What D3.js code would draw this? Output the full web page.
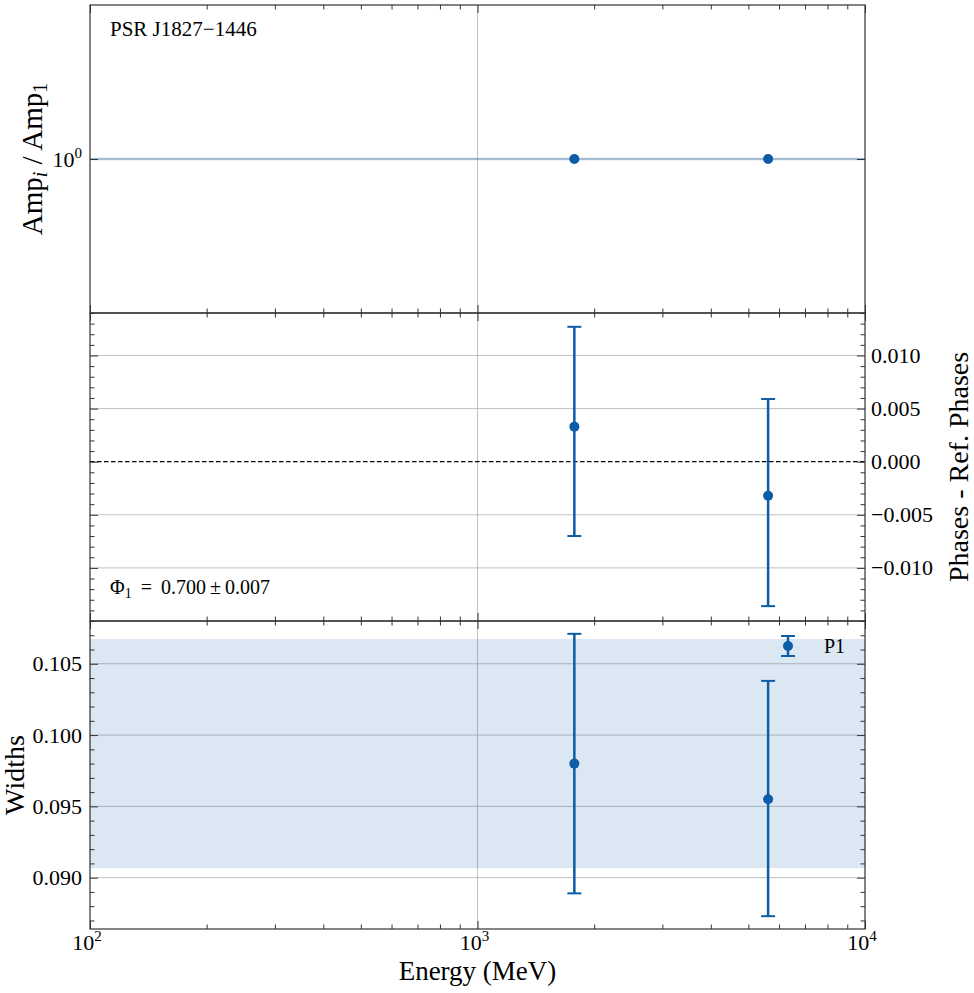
<!DOCTYPE html>
<html><head><meta charset="utf-8">
<script src="https://cdn.jsdelivr.net/npm/d3@7"></script>
<style>
body{margin:0;background:#fff}
</style>
</head><body>
<svg id="c" width="974" height="993" font-family="'Liberation Serif', 'DejaVu Serif', serif"></svg>
<script>
// ---- data ----
const energies = [1778, 5623];             // MeV (bin centres)
const ampRatio = [1, 1];
const phaseDiff = [0.0033, -0.0032];
const phaseErrLow = [0.0103, 0.0104];
const phaseErrHigh = [0.0094, 0.0091];
const widths = [0.0980, 0.0955];
const widthErrLow = [0.0091, 0.0082];
const widthErrHigh = [0.0091, 0.0083];
const widthBand = [0.0907, 0.1067];
const pulsarName = "PSR J1827\u22121446";
const legendLabel = "P1";
const xMajorTicks = [100, 1000, 10000];
const xTickExp = ["2", "3", "4"];
const phaseTicks = [-0.010, -0.005, 0.000, 0.005, 0.010];
const widthTicks = [0.090, 0.095, 0.100, 0.105];
const ampTicks = [1];

// ---- layout ----
const L = 90, R = 865;
const panelTop = [5, 313, 621];
const PH = 308;
const blue = "#0C5DA5";
const FONT = "'Liberation Serif', 'DejaVu Serif', serif";
const svg = d3.select("#c");

const x = d3.scaleLog().domain([100, 10000]).range([L, R]);
const y1 = d3.scaleLog().domain([0.95, 1 / 0.95]).range([panelTop[0] + PH, panelTop[0]]);
const y2 = d3.scaleLinear().domain([-0.015, 0.014]).range([panelTop[1] + PH, panelTop[1]]);
const y3 = d3.scaleLinear().domain([0.0864, 0.1080]).range([panelTop[2] + PH, panelTop[2]]);

const xMinor = [];
[100, 1000].forEach(d => { for (let k = 2; k <= 9; k++) xMinor.push(d * k); });
const phaseMinor = d3.range(-15, 15).map(i => i / 1000).filter(v => !phaseTicks.some(t => Math.abs(t - v) < 1e-9));
const widthMinor = d3.range(87, 108).map(i => i / 1000).filter(v => !widthTicks.some(t => Math.abs(t - v) < 1e-9));

function txt(g) { return g.append("text").attr("font-family", FONT).attr("fill", "#000"); }

function grid(g, top, yScale, yTicks) {
  g.append("g").selectAll("line").data([1000]).join("line")
    .attr("x1", d => x(d)).attr("x2", d => x(d))
    .attr("y1", top).attr("y2", top + PH)
    .attr("stroke", "#b0b0b0").attr("stroke-width", 0.8);
  g.append("g").selectAll("line").data(yTicks).join("line")
    .attr("x1", L).attr("x2", R)
    .attr("y1", d => yScale(d)).attr("y2", d => yScale(d))
    .attr("stroke", "#b0b0b0").attr("stroke-width", 0.8);
}

function frame(g, top, yScale, yMajor, yMinorT) {
  const bottom = top + PH;
  const style = sel => { sel.select(".domain").remove(); sel.selectAll("line").attr("stroke", "#333").attr("stroke-width", 1); };
  g.append("g").attr("transform", `translate(0,${bottom})`)
    .call(d3.axisBottom(x).tickValues(xMajorTicks).tickSize(-8).tickFormat("")).call(style);
  g.append("g").attr("transform", `translate(0,${bottom})`)
    .call(d3.axisBottom(x).tickValues(xMinor).tickSize(-4.5).tickFormat("")).call(style);
  g.append("g").attr("transform", `translate(0,${top})`)
    .call(d3.axisTop(x).tickValues(xMajorTicks).tickSize(-8).tickFormat("")).call(style);
  g.append("g").attr("transform", `translate(0,${top})`)
    .call(d3.axisTop(x).tickValues(xMinor).tickSize(-4.5).tickFormat("")).call(style);
  g.append("g").attr("transform", `translate(${L},0)`)
    .call(d3.axisLeft(yScale).tickValues(yMajor).tickSize(-8).tickFormat("")).call(style);
  g.append("g").attr("transform", `translate(${L},0)`)
    .call(d3.axisLeft(yScale).tickValues(yMinorT).tickSize(-4.5).tickFormat("")).call(style);
  g.append("g").attr("transform", `translate(${R},0)`)
    .call(d3.axisRight(yScale).tickValues(yMajor).tickSize(-8).tickFormat("")).call(style);
  g.append("g").attr("transform", `translate(${R},0)`)
    .call(d3.axisRight(yScale).tickValues(yMinorT).tickSize(-4.5).tickFormat("")).call(style);
  g.append("rect").attr("x", L).attr("y", top).attr("width", R - L).attr("height", PH)
    .attr("fill", "none").attr("stroke", "#333").attr("stroke-width", 1.2);
}

function errorbars(g, vals, lo, hi, yScale) {
  const data = energies.map((e, i) => ({ e, v: vals[i], lo: lo[i], hi: hi[i] }));
  const gg = g.append("g");
  gg.selectAll(".eb").data(data).join("line")
    .attr("x1", d => x(d.e)).attr("x2", d => x(d.e))
    .attr("y1", d => yScale(d.v - d.lo)).attr("y2", d => yScale(d.v + d.hi))
    .attr("stroke", blue).attr("stroke-width", 2.5);
  ["lo", "hi"].forEach(k => {
    gg.selectAll(".cap" + k).data(data).join("line")
      .attr("x1", d => x(d.e) - 7).attr("x2", d => x(d.e) + 7)
      .attr("y1", d => yScale(k === "lo" ? d.v - d.lo : d.v + d.hi))
      .attr("y2", d => yScale(k === "lo" ? d.v - d.lo : d.v + d.hi))
      .attr("stroke", blue).attr("stroke-width", 2);
  });
  gg.selectAll("circle").data(data).join("circle")
    .attr("cx", d => x(d.e)).attr("cy", d => yScale(d.v)).attr("r", 5).attr("fill", blue);
}

// ---- Panel 1 ----
const g1 = svg.append("g");
grid(g1, panelTop[0], y1, ampTicks);
g1.append("line").attr("x1", L).attr("x2", R).attr("y1", y1(1)).attr("y2", y1(1))
  .attr("stroke", blue).attr("stroke-opacity", 0.15).attr("stroke-width", 3);
g1.append("line").attr("x1", L).attr("x2", R).attr("y1", y1(1)).attr("y2", y1(1))
  .attr("stroke", blue).attr("stroke-opacity", 0.3).attr("stroke-width", 1.2);
g1.selectAll("circle").data(energies.map((e, i) => ({ e, v: ampRatio[i] }))).join("circle")
  .attr("cx", d => x(d.e)).attr("cy", d => y1(d.v)).attr("r", 5).attr("fill", blue);
frame(g1, panelTop[0], y1, ampTicks, []);
ampTicks.forEach(d => {
  const t = txt(g1).attr("x", L - 8).attr("y", y1(d) + 8).attr("text-anchor", "end").attr("font-size", 22);
  t.append("tspan").text("10");
  t.append("tspan").attr("dy", -9).attr("font-size", 15).text("0");
});
txt(g1).attr("x", 110).attr("y", 36).attr("font-size", 21).text(pulsarName);
const ampLab = txt(g1).attr("transform", `translate(42,${panelTop[0] + PH / 2}) rotate(-90)`)
  .attr("text-anchor", "middle").attr("font-size", 29);
ampLab.append("tspan").text("Amp");
ampLab.append("tspan").attr("font-style", "italic").attr("font-size", 20).attr("dy", 5).text("i");
ampLab.append("tspan").attr("dy", -5).text(" / Amp");
ampLab.append("tspan").attr("font-size", 20).attr("dy", 5).text("1");

// ---- Panel 2 ----
const g2 = svg.append("g");
grid(g2, panelTop[1], y2, phaseTicks.filter(v => v !== 0));
g2.append("line").attr("x1", L).attr("x2", R).attr("y1", y2(0)).attr("y2", y2(0))
  .attr("stroke", "#000").attr("stroke-width", 1.3).attr("stroke-dasharray", "4.5,2.5");
errorbars(g2, phaseDiff, phaseErrLow, phaseErrHigh, y2);
frame(g2, panelTop[1], y2, phaseTicks, phaseMinor);
phaseTicks.forEach(d => {
  txt(g2).attr("x", R + 6).attr("y", y2(d) + 7.5).attr("font-size", 22)
    .text((d < 0 ? "\u2212" : "") + Math.abs(d).toFixed(3));
});
const phiLab = txt(g2).attr("x", 110).attr("y", 594).attr("font-size", 20);
phiLab.append("tspan").text("\u03A6");
phiLab.append("tspan").attr("font-size", 14).attr("dy", 4).text("1");
phiLab.append("tspan").attr("dy", -4).text(" \u2009=\u2009 0.700\u2009\u00B1\u20090.007");
txt(g2).attr("transform", `translate(968,${panelTop[1] + PH / 2}) rotate(-90)`)
  .attr("text-anchor", "middle").attr("font-size", 28).text("Phases - Ref. Phases");

// ---- Panel 3 ----
const g3 = svg.append("g");
grid(g3, panelTop[2], y3, widthTicks);
g3.append("rect").attr("x", L).attr("width", R - L)
  .attr("y", y3(widthBand[1])).attr("height", y3(widthBand[0]) - y3(widthBand[1]))
  .attr("fill", blue).attr("fill-opacity", 0.15)
  .attr("stroke", blue).attr("stroke-opacity", 0.08);
errorbars(g3, widths, widthErrLow, widthErrHigh, y3);
frame(g3, panelTop[2], y3, widthTicks, widthMinor);
widthTicks.forEach(d => {
  txt(g3).attr("x", L - 8).attr("y", y3(d) + 7.5).attr("text-anchor", "end").attr("font-size", 22)
    .text(d.toFixed(3));
});
txt(g3).attr("transform", `translate(24,${panelTop[2] + PH / 2}) rotate(-90)`)
  .attr("text-anchor", "middle").attr("font-size", 28).text("Widths");
// legend
const lg = g3.append("g");
const lx = 788, ly = 646;
lg.append("line").attr("x1", lx).attr("x2", lx).attr("y1", ly - 10).attr("y2", ly + 10).attr("stroke", blue).attr("stroke-width", 2.5);
[ly - 10, ly + 10].forEach(yy => lg.append("line").attr("x1", lx - 7).attr("x2", lx + 7).attr("y1", yy).attr("y2", yy).attr("stroke", blue).attr("stroke-width", 2));
lg.append("circle").attr("cx", lx).attr("cy", ly).attr("r", 5).attr("fill", blue);
txt(lg).attr("x", 824).attr("y", 653).attr("font-size", 20).text(legendLabel);

// x tick labels
xMajorTicks.forEach((d, i) => {
  const t = txt(g3).attr("x", x(d) - 3).attr("y", 950).attr("text-anchor", "middle").attr("font-size", 22);
  t.append("tspan").text("10");
  t.append("tspan").attr("dy", -9).attr("font-size", 15).text(xTickExp[i]);
});
txt(g3).attr("x", (L + R) / 2).attr("y", 980).attr("text-anchor", "middle").attr("font-size", 27).text("Energy (MeV)");
</script>
</body></html>
